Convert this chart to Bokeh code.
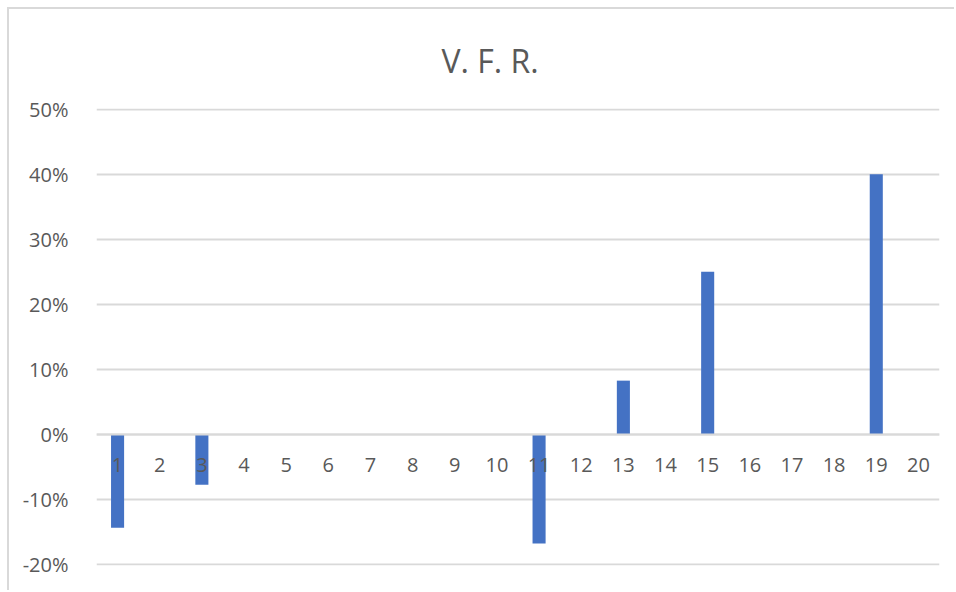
from bokeh.plotting import figure
from bokeh.models import FactorRange, Range1d, FixedTicker, NumeralTickFormatter, ColumnDataSource
from bokeh.embed import file_html
from bokeh.resources import INLINE

categories = [str(i) for i in range(1, 21)]
values = [-0.143, 0, -0.077, 0, 0, 0, 0, 0, 0, 0,
          -0.167, 0, 0.083, 0, 0.25, 0, 0, 0, 0.40, 0]
y_ticks = [-0.2, -0.1, 0.0, 0.1, 0.2, 0.3, 0.4, 0.5]
title_text = "V. F. R."

GRAY = "#595959"
GRID = "#d9d9d9"
FONT = "Open Sans"

src = ColumnDataSource(dict(cat=categories, val=values))

p = figure(width=947, height=583, x_range=FactorRange(*categories),
           y_range=Range1d(-0.2008, 0.5008), output_backend="svg",
           toolbar_location=None, title=title_text,
           min_border_left=87, min_border_right=17, min_border_top=97,
           min_border_bottom=27)

p.vbar(x="cat", top="val", width=0.31, source=src,
       fill_color="#4472c4", line_color=None)

p.x_range.range_padding = 0
p.outline_line_color = None
p.background_fill_color = "white"
p.border_fill_color = "white"

p.title.align = "left"
p.title.offset = 345
p.title.text_font = FONT
p.title.text_font_size = "32px"
p.title.text_font_style = "normal"
p.title.text_color = GRAY
p.title.standoff = 54

# y axis
p.yaxis.ticker = FixedTicker(ticks=y_ticks)
p.yaxis.formatter = NumeralTickFormatter(format="0%")
p.yaxis.axis_line_color = None
p.yaxis.major_tick_line_color = None
p.yaxis.minor_tick_line_color = None
p.yaxis.major_label_text_font = FONT
p.yaxis.major_label_text_font_size = "20px"
p.yaxis.major_label_text_color = GRAY
p.yaxis.major_label_standoff = 22

# x axis at zero
p.xaxis.fixed_location = 0
p.xaxis.axis_line_color = GRID
p.xaxis.axis_line_width = 2
p.xaxis.major_tick_line_color = None
p.xaxis.minor_tick_line_color = None
p.xaxis.major_label_text_font = FONT
p.xaxis.major_label_text_font_size = "20px"
p.xaxis.major_label_text_color = GRAY
p.xaxis.major_label_standoff = 17

p.xgrid.grid_line_color = None
p.ygrid.grid_line_color = GRID
p.ygrid.grid_line_width = 2

p.styles = {"margin-top": "7px", "margin-left": "7px",
            "border-top": "2px solid #d9d9d9", "border-left": "2px solid #d9d9d9"}

open("out.html", "w").write(file_html(p, INLINE))
